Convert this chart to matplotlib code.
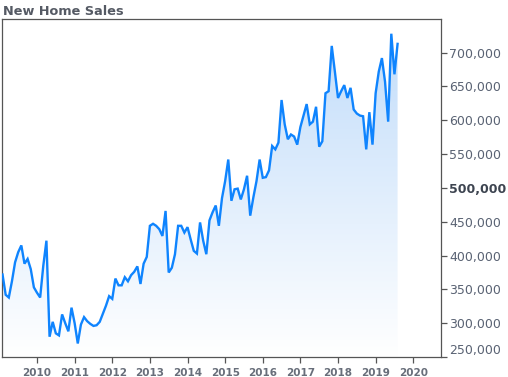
import numpy as np
import matplotlib
matplotlib.use("Agg")
import matplotlib.pyplot as plt
import matplotlib.transforms as mtransforms
from matplotlib.ticker import FuncFormatter

# monthly new home sales (thousands, SAAR), Feb 2009 .. Aug 2019
start_year = 2009
start_month = 2
sales_k = [
    372, 342, 338, 362, 390, 405, 415, 388, 395, 380, 353, 345,
    338, 385, 422, 280, 302, 285, 282, 313, 300, 288, 323, 300,
    270, 298, 309, 303, 299, 296, 297, 302, 314, 326, 340, 336,
    366, 356, 356, 368, 362, 371, 376, 384, 358, 388, 398, 444,
    447, 444, 439, 429, 466, 375, 382, 402, 444, 444, 434, 442,
    424, 407, 403, 449, 422, 402, 452, 464, 474, 444, 485, 510,
    542, 481, 498, 499, 483, 498, 518, 459, 486, 510, 542, 515,
    516, 526, 562, 557, 567, 630, 594, 572, 579, 576, 564, 590,
    607, 624, 594, 598, 620, 561, 569, 640, 643, 710, 672, 633,
    643, 652, 633, 648, 616, 610, 607, 606, 557, 612, 564, 640,
    672, 692, 657, 598, 728, 668, 713,
]
year_ticks = list(range(2010, 2021))
value_ticks = list(range(250000, 700001, 50000))

sales = np.array(sales_k) * 1000
dates = start_year + (start_month - 1) / 12 + np.arange(len(sales)) / 12

line_color = "#0f84fe"
text_color = "#596273"
spine_color = "#555555"

fig = plt.figure(figsize=(5.08, 3.77), dpi=100)
ax = fig.add_axes([0.004, 0.053, 0.864, 0.897])

ymin, ymax = 250000, 750000
ax.set_xlim(2009.07, 2020.736)
ax.set_ylim(ymin, ymax)

# gradient fill under the line
fill = ax.fill_between(dates, sales, ymin, color="none", lw=0)
g = np.linspace(1, 0, 256).reshape(-1, 1, 1)
top = np.array([0.75, 0.86, 0.98])
img = np.ones((256, 1, 3)) * (1 - g) + top * g
im = ax.imshow(img, extent=[dates[0], dates[-1], ymin, ymax],
               aspect="auto", origin="upper", zorder=1)
im.set_clip_path(fill.get_paths()[0], transform=ax.transData)

ax.plot(dates, sales, color=line_color, lw=1.7, zorder=3,
        solid_joinstyle="miter")

# axes styling
for s in ax.spines.values():
    s.set_color(spine_color)
    s.set_linewidth(0.9)

ax.yaxis.tick_right()
ax.set_yticks(value_ticks)
ax.yaxis.set_major_formatter(FuncFormatter(lambda v, p: f"{int(v):,}"))
ax.tick_params(axis="y", direction="out", length=4, width=0.9,
               color=spine_color, labelsize=9, labelcolor=text_color, pad=2)

ax.set_xticks(year_ticks)
ax.tick_params(axis="x", direction="out", length=4, width=0.9,
               color=spine_color, labelsize=7.5, labelcolor="#686e7a", pad=4)
for lab in ax.get_xticklabels():
    lab.set_fontweight("bold")

for lab in ax.get_yticklabels():
    if lab.get_text() == "500,000":
        lab.set_fontweight("bold")
        lab.set_color("#3d4450")
    if lab.get_text() == "250,000":
        lab.set_transform(lab.get_transform() +
                          mtransforms.ScaledTranslation(0, 0.08, fig.dpi_scale_trans))

fig.text(0.006, 0.988, "New Home Sales", ha="left", va="top",
         fontsize=9.3, fontweight="bold", color="#555a64")

fig.savefig("out.png", dpi=100)
